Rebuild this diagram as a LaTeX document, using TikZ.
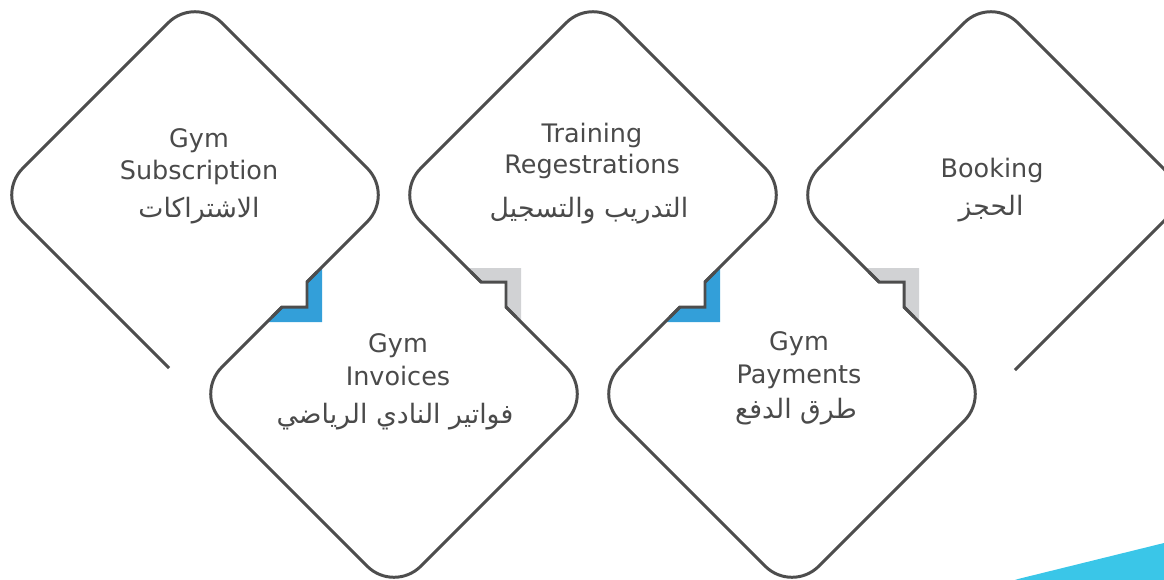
\documentclass[tikz,border=0pt]{standalone}
\usepackage{fontspec}
\setmainfont{DejaVu Sans}
\newfontfamily\arabicfont[Script=Arabic]{DejaVu Sans}
\TeXXeTstate=1
\definecolor{outl}{HTML}{4D4D4D}
\definecolor{txt}{HTML}{4A4A4A}
\definecolor{blueC}{HTML}{339FD9}
\definecolor{greyC}{HTML}{D1D2D4}
\definecolor{cyanC}{HTML}{3AC6E8}
\tikzset{
  outline/.style={draw=outl, line width=1.7pt},
  rc/.style={rounded corners=21.6pt},
  lbl/.style={text=txt, font=\fontsize{14.5}{17}\selectfont, anchor=base, inner sep=0pt},
  arlbl/.style={lbl, font=\arabicfont\fontsize{15.2}{17}\selectfont}
}
\begin{document}
\begin{tikzpicture}[x=0.02cm,y=-0.02cm]
\useasboundingbox (0,0) rectangle (1164,579);
\clip (0,0) rectangle (1164,579);
% coloured corner triangles
\fill[blueC] (322,267) -- (322,322) -- (267,322) -- (282,307) -- (307,307) -- (307,282) -- cycle;
\fill[greyC] (467,268) -- (521,268) -- (521,322) -- (506,307) -- (506,282) -- (481,282) -- cycle;
\fill[blueC] (720,267) -- (720,322) -- (665,322) -- (680,307) -- (705,307) -- (705,282) -- cycle;
\fill[greyC] (865,268) -- (919,268) -- (919,322) -- (904,307) -- (904,282) -- (879,282) -- cycle;
\fill[cyanC] (1018,579) -- (1164,543) -- (1170,541.5) -- (1170,585) -- (1000,585) -- cycle;
% diamond outlines (rounded corner runs)
\draw[outline, rc] (169,368) -- (-4,195) -- (195,-4) -- (394,195) -- (307,282);
\draw[outline, rc] (282,307) -- (195,394) -- (394,593) -- (593,394) -- (506,307);
\draw[outline, rc] (481,282) -- (394,195) -- (593,-4) -- (792,195) -- (705,282);
\draw[outline, rc] (680,307) -- (593,394) -- (792,593) -- (991,394) -- (904,307);
\draw[outline, rc] (879,282) -- (792,195) -- (991,-4) -- (1190,195) -- (1015,370);
% notches on the shared edges
\draw[outline] (317,272) -- (307,282) -- (307,307) -- (282,307) -- (272,317);
\draw[outline] (516,317) -- (506,307) -- (506,282) -- (481,282) -- (471,272);
\draw[outline] (715,272) -- (705,282) -- (705,307) -- (680,307) -- (670,317);
\draw[outline] (914,317) -- (904,307) -- (904,282) -- (879,282) -- (869,272);
% texts
\node[lbl] (a1) at (199,147) {Gym};
\node[lbl] (a2) at (199,179) {Subscription};
\node[arlbl] (a3) at (199,217) {\beginR الاشتراكات\endR};
\node[lbl] (b1) at (398,352) {Gym};
\node[lbl] (b2) at (398,385) {Invoices};
\node[arlbl] (b3) at (395,423) {\beginR فواتير النادي الرياضي\endR};
\node[lbl] (c1) at (592,142) {Training};
\node[lbl] (c2) at (592,173) {Regestrations};
\node[arlbl] (c3) at (589,217) {\beginR التدريب والتسجيل\endR};
\node[lbl] (d1) at (799,350) {Gym};
\node[lbl] (d2) at (799,383) {Payments};
\node[arlbl] (d3) at (796,418) {\beginR طرق الدفع\endR};
\node[lbl] (e1) at (992,177) {Booking};
\node[arlbl] (e3) at (991,215) {\beginR الحجز\endR};
\end{tikzpicture}
\end{document}
